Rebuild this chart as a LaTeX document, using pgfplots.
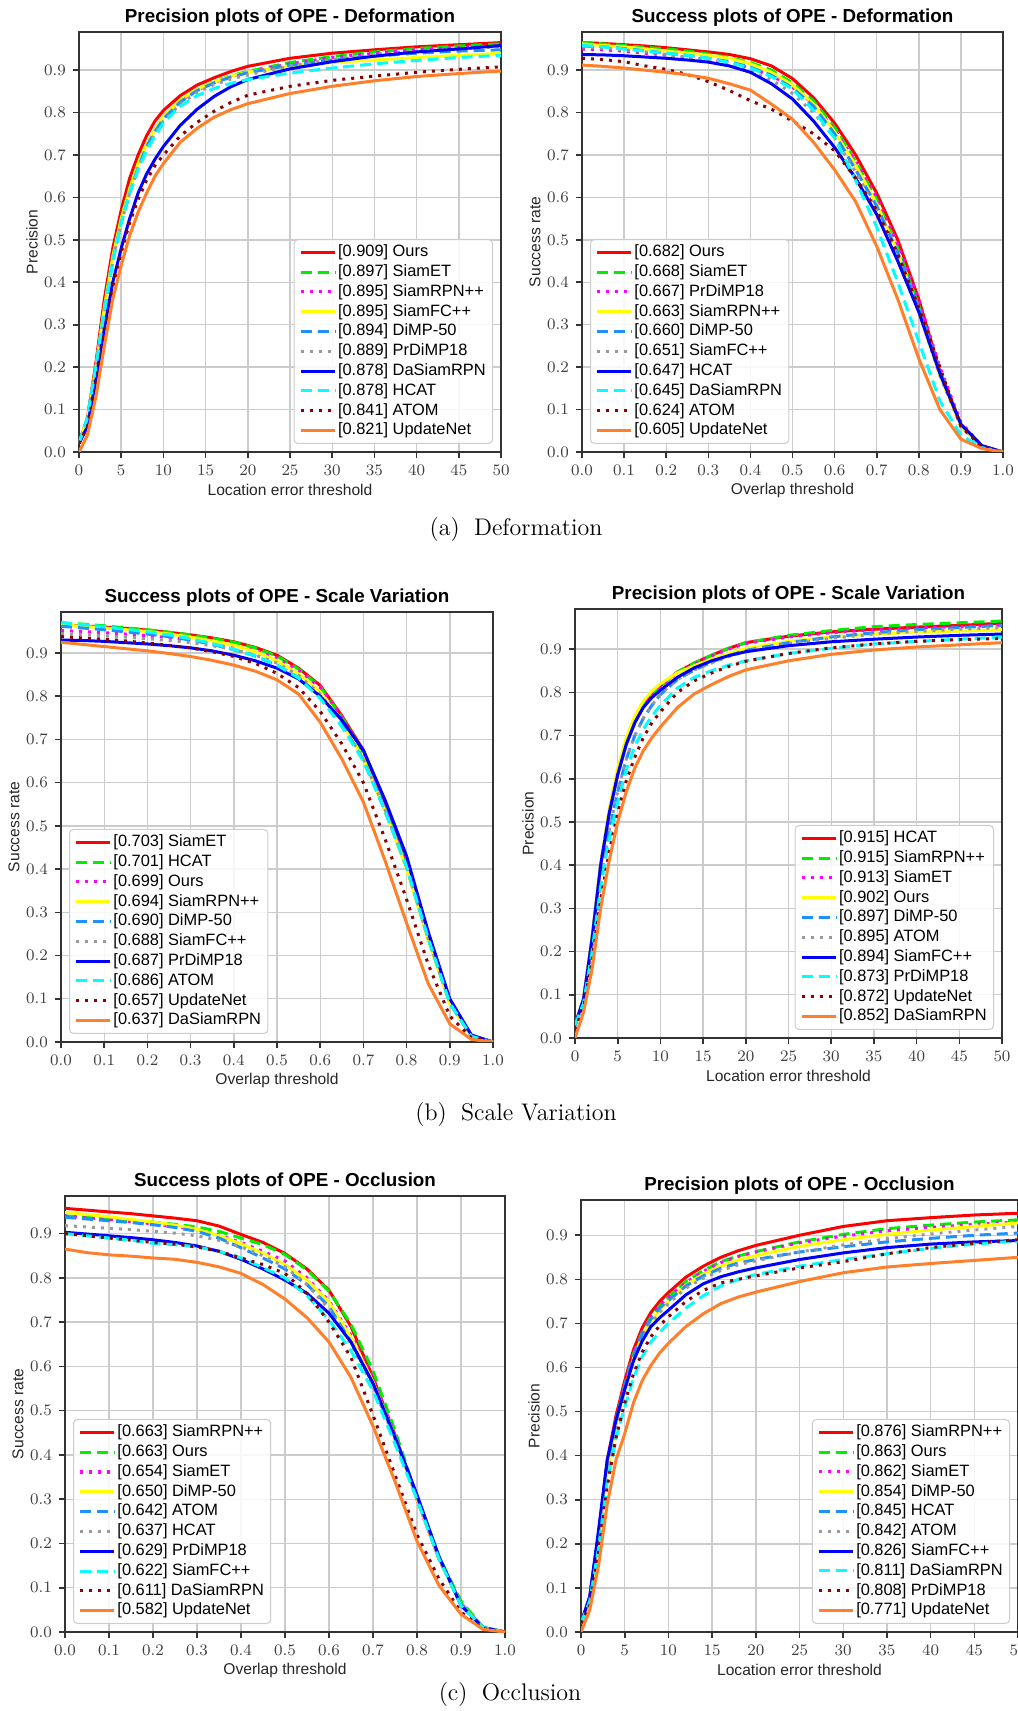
\documentclass[border=0pt]{standalone}
\usepackage{fontspec}
\usepackage{pgfplots}
\pgfplotsset{compat=1.18}
\newfontfamily\arial{Liberation Sans}
\definecolor{c1}{HTML}{FF0000}
\definecolor{c2}{HTML}{00EE00}
\definecolor{c3}{HTML}{FF00FF}
\definecolor{c4}{HTML}{FFFF00}
\definecolor{c5}{HTML}{1E90FF}
\definecolor{c6}{HTML}{999999}
\definecolor{c7}{HTML}{0000FF}
\definecolor{c8}{HTML}{00FFFF}
\definecolor{c9}{HTML}{8B0000}
\definecolor{c10}{HTML}{FF7F2A}
\pgfplotsset{
  sA/.style={c1, solid, line width=1.5pt},
  sB/.style={c2, line width=1.5pt, dash pattern=on 5.5pt off 3pt},
  sC/.style={c3, line width=1.5pt, dash pattern=on 1.5pt off 3pt},
  sD/.style={c4, solid, line width=1.5pt},
  sE/.style={c5, line width=1.5pt, dash pattern=on 5.5pt off 3pt},
  sF/.style={c6, line width=1.5pt, dash pattern=on 1.5pt off 3pt},
  sG/.style={c7, solid, line width=1.5pt},
  sH/.style={c8, line width=1.5pt, dash pattern=on 5.5pt off 3pt},
  sI/.style={c9, line width=1.5pt, dash pattern=on 1.5pt off 3pt},
  sJ/.style={c10, solid, line width=1.5pt},
  base/.style={
    scale only axis,
    grid=major,
    major grid style={gray!40, line width=0.7pt},
    axis line style={black!80, line width=0.9pt},
    tick align=outside,
    xtick pos=bottom, ytick pos=left,
    major tick length=3pt,
    tick style={black!80, line width=0.8pt},
    ymin=0,
    ytick={0,0.1,0.2,0.3,0.4,0.5,0.6,0.7,0.8,0.9},
    yticklabel style={/pgf/number format/.cd,fixed,fixed zerofill,precision=1},
    ticklabel style={font=\fontsize{8.4}{10}\selectfont, text=black!75},
    title style={font=\arial\bfseries\fontsize{9.4}{11}\selectfont, at={([yshift=1.4pt]axis description cs:0.5,1)}, anchor=center},
    label style={font=\arial\fontsize{7.8}{9}\selectfont, text=black!85},
    xlabel style={at={([yshift=-19pt]axis description cs:0.5,0)}, anchor=center},
    ylabel style={at={([xshift=-23.5pt]axis description cs:0,0.5)}, anchor=center},
    legend cell align=left,
    legend style={font=\arial\fontsize{8.2}{9.5}\selectfont, draw=black!20, line width=0.5pt,
      rounded corners=2pt, fill=white, fill opacity=0.85, text opacity=1,
      inner xsep=2.5pt, inner ysep=1.5pt, row sep=0pt,
      nodes={inner sep=0.9pt, text height=6.2pt, text depth=1.9pt}},
  },
  prec/.style={base, xmin=0, xmax=50, xtick={0,5,10,15,20,25,30,35,40,45,50},
    xlabel={Location error threshold}, ylabel={Precision}},
  succ/.style={base, xmin=0, xmax=1, xtick={0,0.1,0.2,0.3,0.4,0.5,0.6,0.7,0.8,0.9,1.0},
    xticklabel style={/pgf/number format/.cd,fixed,fixed zerofill,precision=1},
    xlabel={Overlap threshold}, ylabel={Success rate}},
  legSE/.style={legend style={at={(1,0)}, anchor=south east, xshift=-4pt, yshift=4pt}},
  legSW/.style={legend style={at={(0,0)}, anchor=south west, xshift=4pt, yshift=4pt}},
}
\begin{document}
\begin{tikzpicture}
% ---------------- A1: Precision - Deformation
\begin{axis}[prec, legSE, width=211pt, height=210pt, ymax=0.99, at={(39.5pt,629.5pt)}, anchor=south west,
  title={Precision plots of OPE - Deformation}]
\addplot[sA] coordinates {(0,.02)(1,.08)(2,.21)(3,.36)(4,.48)(5,.57)(6,.645)(7,.70)(8,.745)(9,.78)(10,.805)(12,.84)(14,.865)(16,.882)(18,.897)(20,.909)(25,.928)(30,.94)(35,.948)(40,.955)(45,.96)(50,.965)};
\addlegendentry{{[0.909] Ours}}
\addplot[sB] coordinates {(0,.02)(1,.08)(2,.20)(3,.34)(4,.46)(5,.55)(6,.62)(7,.68)(8,.725)(9,.76)(10,.79)(12,.83)(14,.855)(16,.873)(18,.887)(20,.897)(25,.918)(30,.932)(35,.943)(40,.951)(45,.957)(50,.962)};
\addlegendentry{{[0.897] SiamET}}
\addplot[sC] coordinates {(0,.02)(1,.08)(2,.20)(3,.34)(4,.46)(5,.55)(6,.62)(7,.68)(8,.725)(9,.76)(10,.79)(12,.828)(14,.853)(16,.871)(18,.885)(20,.895)(25,.915)(30,.93)(35,.94)(40,.948)(45,.953)(50,.958)};
\addlegendentry{{[0.895] SiamRPN++}}
\addplot[sD] coordinates {(0,.02)(1,.08)(2,.20)(3,.34)(4,.46)(5,.55)(6,.62)(7,.68)(8,.725)(9,.76)(10,.79)(12,.83)(14,.855)(16,.872)(18,.886)(20,.895)(25,.91)(30,.918)(35,.924)(40,.93)(45,.935)(50,.94)};
\addlegendentry{{[0.895] SiamFC++}}
\addplot[sE] coordinates {(0,.02)(1,.08)(2,.20)(3,.33)(4,.45)(5,.54)(6,.61)(7,.67)(8,.72)(9,.755)(10,.785)(12,.825)(14,.852)(16,.87)(18,.884)(20,.894)(25,.912)(30,.924)(35,.933)(40,.94)(45,.945)(50,.948)};
\addlegendentry{{[0.894] DiMP-50}}
\addplot[sF] coordinates {(0,.02)(1,.08)(2,.20)(3,.33)(4,.45)(5,.54)(6,.61)(7,.67)(8,.715)(9,.75)(10,.78)(12,.82)(14,.848)(16,.866)(18,.879)(20,.889)(25,.91)(30,.925)(35,.937)(40,.945)(45,.95)(50,.955)};
\addlegendentry{{[0.889] PrDiMP18}}
\addplot[sG] coordinates {(0,.02)(1,.06)(2,.17)(3,.29)(4,.40)(5,.48)(6,.55)(7,.61)(8,.655)(9,.69)(10,.72)(12,.77)(14,.808)(16,.838)(18,.861)(20,.878)(25,.903)(30,.92)(35,.933)(40,.943)(45,.95)(50,.958)};
\addlegendentry{{[0.878] DaSiamRPN}}
\addplot[sH] coordinates {(0,.02)(1,.08)(2,.20)(3,.33)(4,.45)(5,.54)(6,.61)(7,.665)(8,.71)(9,.745)(10,.775)(12,.815)(14,.84)(16,.857)(18,.869)(20,.878)(25,.893)(30,.905)(35,.915)(40,.923)(45,.93)(50,.935)};
\addlegendentry{{[0.878] HCAT}}
\addplot[sI] coordinates {(0,.02)(1,.06)(2,.16)(3,.28)(4,.39)(5,.47)(6,.54)(7,.595)(8,.64)(9,.675)(10,.70)(12,.745)(14,.777)(16,.803)(18,.824)(20,.841)(25,.862)(30,.876)(35,.886)(40,.895)(45,.902)(50,.908)};
\addlegendentry{{[0.841] ATOM}}
\addplot[sJ] coordinates {(0,0)(1,.04)(2,.13)(3,.25)(4,.36)(5,.44)(6,.51)(7,.565)(8,.61)(9,.65)(10,.68)(12,.73)(14,.763)(16,.789)(18,.807)(20,.821)(25,.845)(30,.862)(35,.875)(40,.885)(45,.892)(50,.898)};
\addlegendentry{{[0.821] UpdateNet}}
\end{axis}
% ---------------- A2: Success - Deformation
\begin{axis}[succ, legSW, width=210.5pt, height=210pt, ymax=0.99, at={(291pt,629.5pt)}, anchor=south west,
  title={Success plots of OPE - Deformation}]
\addplot[sA] coordinates {(0,.965)(.05,.963)(.1,.96)(.15,.957)(.2,.953)(.25,.948)(.3,.943)(.35,.937)(.4,.927)(.45,.91)(.5,.88)(.55,.835)(.6,.775)(.65,.70)(.7,.61)(.75,.50)(.8,.36)(.85,.19)(.9,.065)(.95,.012)(1,0)};
\addlegendentry{{[0.682] Ours}}
\addplot[sB] coordinates {(0,.965)(.05,.962)(.1,.958)(.15,.954)(.2,.95)(.25,.945)(.3,.938)(.35,.93)(.4,.918)(.45,.90)(.5,.87)(.55,.827)(.6,.765)(.65,.685)(.7,.595)(.75,.48)(.8,.345)(.85,.185)(.9,.062)(.95,.012)(1,0)};
\addlegendentry{{[0.668] SiamET}}
\addplot[sC] coordinates {(0,.95)(.05,.948)(.1,.945)(.15,.94)(.2,.935)(.25,.93)(.3,.925)(.35,.918)(.4,.905)(.45,.887)(.5,.86)(.55,.82)(.6,.76)(.65,.685)(.7,.60)(.75,.49)(.8,.36)(.85,.20)(.9,.07)(.95,.014)(1,0)};
\addlegendentry{{[0.667] PrDiMP18}}
\addplot[sD] coordinates {(0,.962)(.05,.958)(.1,.955)(.15,.95)(.2,.945)(.25,.94)(.3,.935)(.35,.928)(.4,.915)(.45,.895)(.5,.865)(.55,.82)(.6,.755)(.65,.675)(.7,.585)(.75,.47)(.8,.33)(.85,.18)(.9,.06)(.95,.012)(1,0)};
\addlegendentry{{[0.663] SiamRPN++}}
\addplot[sE] coordinates {(0,.957)(.05,.955)(.1,.951)(.15,.946)(.2,.94)(.25,.935)(.3,.928)(.35,.92)(.4,.907)(.45,.888)(.5,.858)(.55,.815)(.6,.75)(.65,.665)(.7,.58)(.75,.47)(.8,.34)(.85,.19)(.9,.065)(.95,.014)(1,0)};
\addlegendentry{{[0.660] DiMP-50}}
\addplot[sF] coordinates {(0,.955)(.05,.952)(.1,.948)(.15,.943)(.2,.937)(.25,.93)(.3,.922)(.35,.912)(.4,.897)(.45,.877)(.5,.845)(.55,.80)(.6,.74)(.65,.66)(.7,.57)(.75,.46)(.8,.33)(.85,.18)(.9,.06)(.95,.012)(1,0)};
\addlegendentry{{[0.651] SiamFC++}}
\addplot[sG] coordinates {(0,.937)(.05,.936)(.1,.934)(.15,.931)(.2,.928)(.25,.924)(.3,.919)(.35,.91)(.4,.895)(.45,.868)(.5,.832)(.55,.78)(.6,.718)(.65,.645)(.7,.56)(.75,.45)(.8,.33)(.85,.185)(.9,.065)(.95,.015)(1,0)};
\addlegendentry{{[0.647] HCAT}}
\addplot[sH] coordinates {(0,.958)(.05,.955)(.1,.95)(.15,.945)(.2,.94)(.25,.935)(.3,.928)(.35,.918)(.4,.905)(.45,.885)(.5,.855)(.55,.805)(.6,.74)(.65,.64)(.7,.53)(.75,.40)(.8,.26)(.85,.12)(.9,.04)(.95,.01)(1,0)};
\addlegendentry{{[0.645] DaSiamRPN}}
\addplot[sI] coordinates {(0,.928)(.05,.925)(.1,.92)(.15,.91)(.2,.902)(.25,.89)(.3,.873)(.35,.852)(.4,.828)(.45,.808)(.5,.78)(.55,.75)(.6,.71)(.65,.645)(.7,.57)(.75,.466)(.8,.34)(.85,.20)(.9,.06)(.95,.012)(1,0)};
\addlegendentry{{[0.624] ATOM}}
\addplot[sJ] coordinates {(0,.912)(.05,.909)(.1,.905)(.15,.90)(.2,.895)(.25,.889)(.3,.881)(.35,.868)(.4,.853)(.45,.82)(.5,.784)(.55,.73)(.6,.665)(.65,.59)(.7,.485)(.75,.36)(.8,.22)(.85,.10)(.9,.03)(.95,.008)(1,0)};
\addlegendentry{{[0.605] UpdateNet}}
\end{axis}
% ---------------- A3: Success - Scale Variation
\begin{axis}[succ, legSW, width=216pt, height=215pt, ymax=0.995, at={(30.5pt,334.5pt)}, anchor=south west,
  title={Success plots of OPE - Scale Variation}]
\addplot[sA] coordinates {(0,.965)(.05,.963)(.1,.96)(.15,.957)(.2,.953)(.25,.948)(.3,.942)(.35,.935)(.4,.926)(.45,.913)(.5,.895)(.55,.865)(.6,.825)(.65,.755)(.7,.675)(.75,.555)(.8,.42)(.85,.25)(.9,.095)(.95,.015)(1,0)};
\addlegendentry{{[0.703] SiamET}}
\addplot[sB] coordinates {(0,.97)(.05,.967)(.1,.963)(.15,.958)(.2,.954)(.25,.948)(.3,.942)(.35,.934)(.4,.925)(.45,.912)(.5,.893)(.55,.863)(.6,.822)(.65,.752)(.7,.67)(.75,.55)(.8,.415)(.85,.245)(.9,.093)(.95,.014)(1,0)};
\addlegendentry{{[0.701] HCAT}}
\addplot[sC] coordinates {(0,.952)(.05,.95)(.1,.947)(.15,.944)(.2,.94)(.25,.936)(.3,.931)(.35,.925)(.4,.917)(.45,.905)(.5,.888)(.55,.86)(.6,.82)(.65,.752)(.7,.668)(.75,.55)(.8,.415)(.85,.245)(.9,.092)(.95,.014)(1,0)};
\addlegendentry{{[0.699] Ours}}
\addplot[sD] coordinates {(0,.965)(.05,.962)(.1,.958)(.15,.954)(.2,.95)(.25,.944)(.3,.937)(.35,.928)(.4,.918)(.45,.903)(.5,.882)(.55,.852)(.6,.81)(.65,.74)(.7,.655)(.75,.535)(.8,.40)(.85,.235)(.9,.088)(.95,.013)(1,0)};
\addlegendentry{{[0.694] SiamRPN++}}
\addplot[sE] coordinates {(0,.962)(.05,.958)(.1,.954)(.15,.949)(.2,.944)(.25,.938)(.3,.93)(.35,.92)(.4,.908)(.45,.893)(.5,.872)(.55,.843)(.6,.80)(.65,.735)(.7,.652)(.75,.535)(.8,.405)(.85,.24)(.9,.09)(.95,.013)(1,0)};
\addlegendentry{{[0.690] DiMP-50}}
\addplot[sF] coordinates {(0,.945)(.05,.943)(.1,.94)(.15,.937)(.2,.933)(.25,.929)(.3,.924)(.35,.917)(.4,.908)(.45,.895)(.5,.877)(.55,.848)(.6,.805)(.65,.738)(.7,.655)(.75,.538)(.8,.405)(.85,.24)(.9,.09)(.95,.013)(1,0)};
\addlegendentry{{[0.688] SiamFC++}}
\addplot[sG] coordinates {(0,.93)(.05,.929)(.1,.927)(.15,.924)(.2,.921)(.25,.917)(.3,.912)(.35,.905)(.4,.895)(.45,.882)(.5,.865)(.55,.84)(.6,.80)(.65,.745)(.7,.675)(.75,.56)(.8,.43)(.85,.255)(.9,.10)(.95,.016)(1,0)};
\addlegendentry{{[0.687] PrDiMP18}}
\addplot[sH] coordinates {(0,.97)(.05,.966)(.1,.961)(.15,.955)(.2,.949)(.25,.942)(.3,.933)(.35,.922)(.4,.909)(.45,.893)(.5,.872)(.55,.842)(.6,.795)(.65,.73)(.7,.65)(.75,.535)(.8,.405)(.85,.24)(.9,.09)(.95,.013)(1,0)};
\addlegendentry{{[0.686] ATOM}}
\addplot[sI] coordinates {(0,.938)(.05,.935)(.1,.932)(.15,.928)(.2,.923)(.25,.918)(.3,.912)(.35,.903)(.4,.892)(.45,.876)(.5,.853)(.55,.82)(.6,.765)(.65,.69)(.7,.60)(.75,.47)(.8,.33)(.85,.18)(.9,.06)(.95,.01)(1,0)};
\addlegendentry{{[0.657] UpdateNet}}
\addplot[sJ] coordinates {(0,.925)(.05,.92)(.1,.915)(.15,.91)(.2,.905)(.25,.899)(.3,.892)(.35,.883)(.4,.872)(.45,.858)(.5,.838)(.55,.805)(.6,.74)(.65,.655)(.7,.555)(.75,.42)(.8,.275)(.85,.135)(.9,.042)(.95,.006)(1,0)};
\addlegendentry{{[0.637] DaSiamRPN}}
\end{axis}
% ---------------- A4: Precision - Scale Variation
\begin{axis}[prec, legSE, width=213.5pt, height=214.5pt, ymax=0.993, at={(287.5pt,336.5pt)}, anchor=south west,
  title={Precision plots of OPE - Scale Variation}]
\addplot[sA] coordinates {(0,.03)(1,.09)(2,.23)(3,.40)(4,.52)(5,.61)(6,.68)(7,.73)(8,.77)(9,.795)(10,.815)(12,.847)(14,.868)(16,.886)(18,.902)(20,.915)(25,.93)(30,.94)(35,.946)(40,.951)(45,.955)(50,.96)};
\addlegendentry{{[0.915] HCAT}}
\addplot[sB] coordinates {(0,.03)(1,.09)(2,.23)(3,.40)(4,.52)(5,.61)(6,.68)(7,.73)(8,.77)(9,.795)(10,.815)(12,.847)(14,.868)(16,.886)(18,.902)(20,.915)(25,.932)(30,.943)(35,.952)(40,.957)(45,.961)(50,.965)};
\addlegendentry{{[0.915] SiamRPN++}}
\addplot[sC] coordinates {(0,.03)(1,.09)(2,.23)(3,.40)(4,.52)(5,.61)(6,.68)(7,.73)(8,.77)(9,.795)(10,.814)(12,.845)(14,.866)(16,.884)(18,.90)(20,.913)(25,.928)(30,.938)(35,.945)(40,.949)(45,.952)(50,.955)};
\addlegendentry{{[0.913] SiamET}}
\addplot[sD] coordinates {(0,.03)(1,.09)(2,.23)(3,.40)(4,.53)(5,.625)(6,.695)(7,.745)(8,.78)(9,.803)(10,.82)(12,.845)(14,.862)(16,.877)(18,.89)(20,.902)(25,.918)(30,.928)(35,.935)(40,.939)(45,.942)(50,.945)};
\addlegendentry{{[0.902] Ours}}
\addplot[sE] coordinates {(0,.03)(1,.08)(2,.20)(3,.36)(4,.48)(5,.57)(6,.645)(7,.70)(8,.74)(9,.77)(10,.795)(12,.83)(14,.852)(16,.87)(18,.885)(20,.897)(25,.915)(30,.928)(35,.938)(40,.945)(45,.95)(50,.955)};
\addlegendentry{{[0.897] DiMP-50}}
\addplot[sF] coordinates {(0,.03)(1,.08)(2,.20)(3,.36)(4,.48)(5,.57)(6,.645)(7,.70)(8,.74)(9,.77)(10,.795)(12,.83)(14,.852)(16,.868)(18,.883)(20,.895)(25,.913)(30,.925)(35,.935)(40,.941)(45,.946)(50,.95)};
\addlegendentry{{[0.895] ATOM}}
\addplot[sG] coordinates {(0,.03)(1,.09)(2,.23)(3,.40)(4,.52)(5,.61)(6,.68)(7,.73)(8,.765)(9,.788)(10,.805)(12,.835)(14,.857)(16,.873)(18,.885)(20,.894)(25,.908)(30,.917)(35,.923)(40,.928)(45,.932)(50,.935)};
\addlegendentry{{[0.894] SiamFC++}}
\addplot[sH] coordinates {(0,.03)(1,.08)(2,.20)(3,.35)(4,.46)(5,.545)(6,.62)(7,.675)(8,.715)(9,.745)(10,.77)(12,.81)(14,.835)(16,.85)(18,.863)(20,.873)(25,.89)(30,.902)(35,.912)(40,.918)(45,.923)(50,.928)};
\addlegendentry{{[0.873] PrDiMP18}}
\addplot[sI] coordinates {(0,.02)(1,.07)(2,.18)(3,.32)(4,.43)(5,.52)(6,.595)(7,.65)(8,.695)(9,.73)(10,.755)(12,.80)(14,.827)(16,.845)(18,.86)(20,.872)(25,.89)(30,.903)(35,.912)(40,.918)(45,.922)(50,.925)};
\addlegendentry{{[0.872] UpdateNet}}
\addplot[sJ] coordinates {(0,0)(1,.06)(2,.16)(3,.30)(4,.41)(5,.50)(6,.57)(7,.625)(8,.665)(9,.695)(10,.72)(12,.765)(14,.797)(16,.818)(18,.837)(20,.852)(25,.873)(30,.888)(35,.898)(40,.905)(45,.91)(50,.915)};
\addlegendentry{{[0.852] DaSiamRPN}}
\end{axis}
% ---------------- A5: Success - Occlusion
\begin{axis}[succ, legSW, width=220pt, height=218pt, ymax=0.985, at={(32.5pt,39.5pt)}, anchor=south west,
  title={Success plots of OPE - Occlusion}]
\addplot[sA] coordinates {(0,.957)(.05,.953)(.1,.949)(.15,.945)(.2,.94)(.25,.935)(.3,.929)(.35,.917)(.4,.898)(.45,.88)(.5,.855)(.55,.82)(.6,.772)(.65,.69)(.7,.575)(.75,.445)(.8,.30)(.85,.165)(.9,.065)(.95,.01)(1,0)};
\addlegendentry{{[0.663] SiamRPN++}}
\addplot[sB] coordinates {(0,.94)(.05,.937)(.1,.934)(.15,.93)(.2,.926)(.25,.921)(.3,.915)(.35,.905)(.4,.89)(.45,.875)(.5,.853)(.55,.818)(.6,.77)(.65,.695)(.7,.59)(.75,.455)(.8,.305)(.85,.17)(.9,.07)(.95,.011)(1,0)};
\addlegendentry{{[0.663] Ours}}
\addplot[sC] coordinates {(0,.94)(.05,.936)(.1,.932)(.15,.927)(.2,.922)(.25,.916)(.3,.908)(.35,.897)(.4,.88)(.45,.86)(.5,.838)(.55,.80)(.6,.748)(.65,.67)(.7,.575)(.75,.445)(.8,.30)(.85,.165)(.9,.065)(.95,.01)(1,0)};
\addlegendentry{{[0.654] SiamET}}
\addplot[sD] coordinates {(0,.948)(.05,.943)(.1,.938)(.15,.932)(.2,.926)(.25,.919)(.3,.91)(.35,.895)(.4,.877)(.45,.855)(.5,.83)(.55,.795)(.6,.745)(.65,.665)(.7,.565)(.75,.44)(.8,.30)(.85,.165)(.9,.063)(.95,.01)(1,0)};
\addlegendentry{{[0.650] DiMP-50}}
\addplot[sE] coordinates {(0,.937)(.05,.933)(.1,.929)(.15,.925)(.2,.92)(.25,.914)(.3,.905)(.35,.89)(.4,.868)(.45,.845)(.5,.82)(.55,.785)(.6,.735)(.65,.655)(.7,.56)(.75,.44)(.8,.305)(.85,.17)(.9,.062)(.95,.01)(1,0)};
\addlegendentry{{[0.642] ATOM}}
\addplot[sF] coordinates {(0,.918)(.05,.915)(.1,.912)(.15,.909)(.2,.905)(.25,.901)(.3,.895)(.35,.885)(.4,.87)(.45,.85)(.5,.825)(.55,.785)(.6,.73)(.65,.65)(.7,.555)(.75,.435)(.8,.30)(.85,.165)(.9,.06)(.95,.01)(1,0)};
\addlegendentry{{[0.637] HCAT}}
\addplot[sG] coordinates {(0,.903)(.05,.899)(.1,.895)(.15,.891)(.2,.886)(.25,.88)(.3,.872)(.35,.86)(.4,.842)(.45,.82)(.5,.795)(.55,.765)(.6,.72)(.65,.655)(.7,.562)(.75,.44)(.8,.31)(.85,.17)(.9,.06)(.95,.01)(1,0)};
\addlegendentry{{[0.629] PrDiMP18}}
\addplot[sH] coordinates {(0,.90)(.05,.895)(.1,.89)(.15,.885)(.2,.878)(.25,.875)(.3,.87)(.35,.86)(.4,.845)(.45,.823)(.5,.80)(.55,.76)(.6,.705)(.65,.635)(.7,.545)(.75,.425)(.8,.30)(.85,.165)(.9,.06)(.95,.01)(1,0)};
\addlegendentry{{[0.622] SiamFC++}}
\addplot[sI] coordinates {(0,.90)(.05,.895)(.1,.89)(.15,.885)(.2,.88)(.25,.876)(.3,.87)(.35,.86)(.4,.845)(.45,.83)(.5,.81)(.55,.765)(.6,.70)(.65,.62)(.7,.49)(.75,.355)(.8,.22)(.85,.12)(.9,.045)(.95,.008)(1,0)};
\addlegendentry{{[0.611] DaSiamRPN}}
\addplot[sJ] coordinates {(0,.865)(.05,.857)(.1,.852)(.15,.849)(.2,.845)(.25,.842)(.3,.835)(.35,.825)(.4,.81)(.45,.785)(.5,.752)(.55,.71)(.6,.655)(.65,.575)(.7,.465)(.75,.34)(.8,.205)(.85,.105)(.9,.04)(.95,.006)(1,0)};
\addlegendentry{{[0.582] UpdateNet}}
\end{axis}
% ---------------- A6: Precision - Occlusion
\begin{axis}[prec, legSE, width=218.5pt, height=216pt, ymax=0.98, at={(290.5pt,39.5pt)}, anchor=south west,
  title={Precision plots of OPE - Occlusion}]
\addplot[sA] coordinates {(0,.02)(1,.08)(2,.22)(3,.39)(4,.49)(5,.57)(6,.64)(7,.69)(8,.725)(9,.75)(10,.77)(12,.805)(14,.83)(16,.85)(18,.865)(20,.877)(25,.90)(30,.92)(35,.933)(40,.94)(45,.946)(50,.95)};
\addlegendentry{{[0.876] SiamRPN++}}
\addplot[sB] coordinates {(0,.02)(1,.08)(2,.22)(3,.38)(4,.48)(5,.56)(6,.63)(7,.68)(8,.715)(9,.74)(10,.76)(12,.795)(14,.82)(16,.84)(18,.853)(20,.863)(25,.885)(30,.902)(35,.915)(40,.923)(45,.93)(50,.935)};
\addlegendentry{{[0.863] Ours}}
\addplot[sC] coordinates {(0,.02)(1,.08)(2,.22)(3,.38)(4,.48)(5,.56)(6,.63)(7,.68)(8,.715)(9,.74)(10,.76)(12,.793)(14,.818)(16,.838)(18,.852)(20,.862)(25,.883)(30,.898)(35,.91)(40,.918)(45,.925)(50,.93)};
\addlegendentry{{[0.862] SiamET}}
\addplot[sD] coordinates {(0,.02)(1,.07)(2,.20)(3,.36)(4,.47)(5,.55)(6,.62)(7,.67)(8,.705)(9,.73)(10,.75)(12,.787)(14,.812)(16,.83)(18,.844)(20,.854)(25,.875)(30,.89)(35,.902)(40,.912)(45,.92)(50,.928)};
\addlegendentry{{[0.854] DiMP-50}}
\addplot[sE] coordinates {(0,.02)(1,.08)(2,.22)(3,.38)(4,.48)(5,.56)(6,.625)(7,.675)(8,.71)(9,.735)(10,.752)(12,.785)(14,.808)(16,.825)(18,.837)(20,.845)(25,.862)(30,.874)(35,.885)(40,.893)(45,.90)(50,.905)};
\addlegendentry{{[0.845] HCAT}}
\addplot[sF] coordinates {(0,.02)(1,.07)(2,.20)(3,.36)(4,.47)(5,.55)(6,.615)(7,.665)(8,.70)(9,.725)(10,.745)(12,.78)(14,.803)(16,.82)(18,.833)(20,.842)(25,.862)(30,.878)(35,.892)(40,.903)(45,.912)(50,.92)};
\addlegendentry{{[0.842] ATOM}}
\addplot[sG] coordinates {(0,.02)(1,.08)(2,.23)(3,.39)(4,.48)(5,.55)(6,.615)(7,.66)(8,.693)(9,.713)(10,.73)(12,.765)(14,.79)(16,.806)(18,.817)(20,.826)(25,.845)(30,.86)(35,.872)(40,.88)(45,.885)(50,.888)};
\addlegendentry{{[0.826] SiamFC++}}
\addplot[sH] coordinates {(0,.02)(1,.07)(2,.19)(3,.34)(4,.44)(5,.51)(6,.575)(7,.625)(8,.658)(9,.68)(10,.70)(12,.735)(14,.763)(16,.785)(18,.80)(20,.811)(25,.83)(30,.845)(35,.858)(40,.87)(45,.88)(50,.887)};
\addlegendentry{{[0.811] DaSiamRPN}}
\addplot[sI] coordinates {(0,.02)(1,.06)(2,.18)(3,.33)(4,.44)(5,.52)(6,.585)(7,.635)(8,.67)(9,.695)(10,.715)(12,.75)(14,.775)(16,.792)(18,.80)(20,.808)(25,.826)(30,.84)(35,.858)(40,.872)(45,.882)(50,.89)};
\addlegendentry{{[0.808] PrDiMP18}}
\addplot[sJ] coordinates {(0,0)(1,.05)(2,.15)(3,.29)(4,.39)(5,.45)(6,.52)(7,.57)(8,.605)(9,.633)(10,.655)(12,.693)(14,.722)(16,.745)(18,.76)(20,.771)(25,.795)(30,.815)(35,.828)(40,.836)(45,.843)(50,.85)};
\addlegendentry{{[0.771] UpdateNet}}
\end{axis}
% captions
\node[font=\fontsize{12}{14}\selectfont] at (258pt,590.5pt) {(a)\hspace{0.6em}Deformation};
\node[font=\fontsize{12}{14}\selectfont] at (258pt,298pt) {(b)\hspace{0.6em}Scale Variation};
\node[font=\fontsize{12}{14}\selectfont] at (255pt,8pt) {(c)\hspace{0.6em}Occlusion};
\pgfresetboundingbox
\path[use as bounding box] (0,0) rectangle (508.5pt,855.5pt);
\end{tikzpicture}
\end{document}
